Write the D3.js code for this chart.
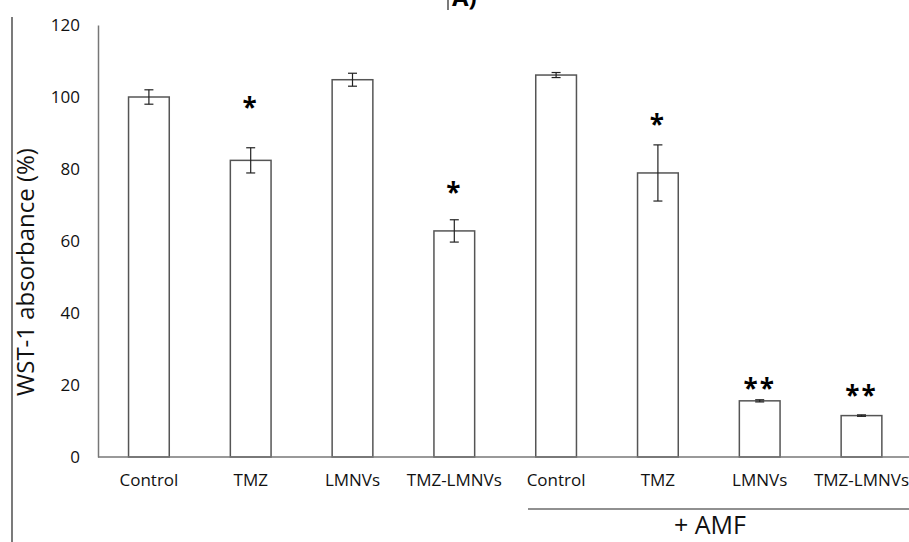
<!DOCTYPE html>
<html>
<head>
<meta charset="utf-8">
<script src="https://cdn.jsdelivr.net/npm/d3@7"></script>
<style>
  body { margin: 0; background: #fff; }
  svg { display: block; }
  svg text { font-family: "Open Sans", "DejaVu Sans", sans-serif; }
</style>
</head>
<body>
<div id="chart"></div>
<script>
const categories = ["Control", "TMZ", "LMNVs", "TMZ-LMNVs", "Control", "TMZ", "LMNVs", "TMZ-LMNVs"];
const values = [100, 82.4, 104.8, 62.8, 106.1, 78.9, 15.6, 11.5];
const errors = [2, 3.5, 1.8, 3.1, 0.7, 7.8, 0.3, 0.2];
const marks = ["", "*", "", "*", "", "*", "**", "**"];
const markAt = [0, 98.6, 0, 75, 0, 93.9, 20.6, 18.6];
const yTicks = [0, 20, 40, 60, 80, 100, 120];

const width = 909, height = 542;
const margin = { left: 98, top: 25, bottom: 85 };

const svg = d3.select("#chart").append("svg")
    .attr("width", width)
    .attr("height", height);

const x = d3.scaleBand()
    .domain(d3.range(categories.length))
    .range([margin.left, margin.left + 8 * 101.8])
    .paddingInner(0.6)
    .paddingOuter(0.3);

const y = d3.scaleLinear()
    .domain([0, 120])
    .range([height - margin.bottom, margin.top]);

// cropped frame lines from the source figure
svg.append("line")
    .attr("x1", 12).attr("x2", 12).attr("y1", 17).attr("y2", height)
    .attr("stroke", "#222").attr("stroke-width", 1.2);
svg.append("line")
    .attr("x1", 448).attr("x2", 448).attr("y1", 0).attr("y2", 10)
    .attr("stroke", "#222").attr("stroke-width", 1.2);
svg.append("text")
    .attr("x", 452).attr("y", 6)
    .style("font-size", "24px").style("font-weight", "bold")
    .text("A)");

// y axis
const yAxis = d3.axisLeft(y)
    .tickValues(yTicks)
    .tickSize(0)
    .tickPadding(18);

const gy = svg.append("g")
    .attr("transform", `translate(${margin.left},0)`)
    .call(yAxis)
    .attr("font-family", null)
    .attr("font-size", null);
gy.select(".domain").attr("stroke", "#777").attr("stroke-width", 1.5);
gy.selectAll("text").style("font-size", "17px").attr("fill", "#111");

// bars
svg.selectAll(".bar")
    .data(values)
    .enter().append("rect")
    .attr("class", "bar")
    .attr("x", (d, i) => x(i))
    .attr("y", d => y(d))
    .attr("width", x.bandwidth())
    .attr("height", d => y(0) - y(d))
    .attr("fill", "#fff")
    .attr("stroke", "#555")
    .attr("stroke-width", 1.5);

// error bars
const eb = svg.selectAll(".err")
    .data(values)
    .enter().append("g")
    .attr("class", "err")
    .attr("stroke", "#222")
    .attr("stroke-width", 1.2);

eb.append("line")
    .attr("x1", (d, i) => x(i) + x.bandwidth() / 2)
    .attr("x2", (d, i) => x(i) + x.bandwidth() / 2)
    .attr("y1", (d, i) => y(d + errors[i]))
    .attr("y2", (d, i) => y(d - errors[i]));
eb.append("line")
    .attr("x1", (d, i) => x(i) + x.bandwidth() / 2 - 4.5)
    .attr("x2", (d, i) => x(i) + x.bandwidth() / 2 + 4.5)
    .attr("y1", (d, i) => y(d + errors[i]))
    .attr("y2", (d, i) => y(d + errors[i]));
eb.append("line")
    .attr("x1", (d, i) => x(i) + x.bandwidth() / 2 - 4.5)
    .attr("x2", (d, i) => x(i) + x.bandwidth() / 2 + 4.5)
    .attr("y1", (d, i) => y(d - errors[i]))
    .attr("y2", (d, i) => y(d - errors[i]));

// x axis
const xAxis = d3.axisBottom(x)
    .tickFormat(i => categories[i])
    .tickSize(0)
    .tickPadding(17);

const gx = svg.append("g")
    .attr("transform", `translate(0,${y(0)})`)
    .call(xAxis)
    .attr("font-family", null)
    .attr("font-size", null);
gx.select(".domain").attr("stroke", "#777").attr("stroke-width", 1.5)
    .attr("d", `M${margin.left},0H${width}`);
gx.selectAll("text").style("font-size", "17px").attr("fill", "#111");

// significance marks
svg.selectAll(".mark")
    .data(marks)
    .enter().append("text")
    .attr("class", "mark")
    .attr("x", (d, i) => x(i) + x.bandwidth() / 2)
    .attr("y", (d, i) => y(markAt[i]) + 15)
    .attr("text-anchor", "middle")
    .style("font-size", "26px")
    .style("font-weight", "bold")
    .style("letter-spacing", "2px")
    .text(d => d);

// + AMF group
svg.append("line")
    .attr("x1", 528).attr("x2", width)
    .attr("y1", 509).attr("y2", 509)
    .attr("stroke", "#222").attr("stroke-width", 1.2);
svg.append("text")
    .attr("x", 710).attr("y", 534)
    .attr("text-anchor", "middle")
    .style("font-size", "25px")
    .attr("fill", "#111")
    .text("+ AMF");

// y title
svg.append("text")
    .attr("transform", `translate(34,${272}) rotate(-90)`)
    .attr("text-anchor", "middle")
    .style("font-size", "24px")
    .attr("fill", "#111")
    .text("WST-1 absorbance (%)");
</script>
</body>
</html>
